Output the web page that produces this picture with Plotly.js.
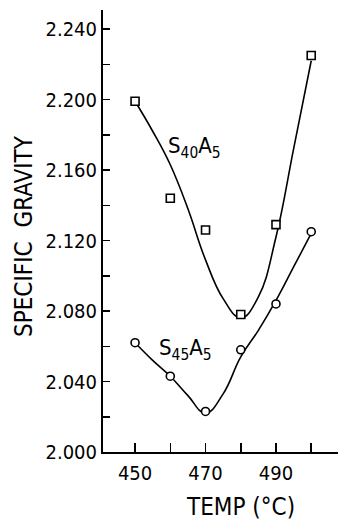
<!DOCTYPE html>
<html>
<head>
<meta charset="utf-8">
<script src="https://cdn.plot.ly/plotly-3.0.1.min.js"></script>
<style>html,body{margin:0;padding:0;background:#fff;}#chart{width:338px;height:520px;}</style>
</head>
<body>
<div id="chart"></div>
<script>
// Measured points
const temps = [450, 460, 470, 480, 490, 500];
const s40a5 = [2.199, 2.144, 2.126, 2.078, 2.129, 2.225];
const s45a5 = [2.062, 2.043, 2.023, 2.058, 2.084, 2.125];

// Smooth fitted curves
const curveTemps = [450, 455, 460, 465, 470, 475, 480, 485, 490, 495, 500];
const s40a5Curve = [2.199, 2.182, 2.163, 2.138, 2.109, 2.087, 2.076, 2.088, 2.122, 2.172, 2.222];
const s45a5Curve = [2.062, 2.052, 2.043, 2.032, 2.022, 2.033, 2.054, 2.069, 2.086, 2.105, 2.124];

// Tick labels
const xTickVals = [450, 470, 490];
const yTickVals = [2.000, 2.040, 2.080, 2.120, 2.160, 2.200, 2.240];
const yTickText = ['2.000', '2.040', '2.080', '2.120', '2.160', '2.200', '2.240'];

const FONT = '"DejaVu Sans Condensed", "DejaVu Sans", sans-serif';

const traces = [
  {x: curveTemps, y: s40a5Curve, mode: 'lines', line: {color: '#000', width: 1.6, shape: 'spline', smoothing: 1.2}, hoverinfo: 'skip', showlegend: false},
  {x: curveTemps, y: s45a5Curve, mode: 'lines', line: {color: '#000', width: 1.6, shape: 'spline', smoothing: 1.2}, hoverinfo: 'skip', showlegend: false},
  {x: temps, y: s40a5, mode: 'markers', name: 'S40A5',
   marker: {symbol: 'square', size: 8, color: '#fff', line: {color: '#000', width: 1.6}}, showlegend: false},
  {x: temps, y: s45a5, mode: 'markers', name: 'S45A5',
   marker: {symbol: 'circle', size: 8, color: '#fff', line: {color: '#000', width: 1.6}}, showlegend: false}
];

const PW = 338 - 103, PH = 520 - 10 - 68;

const layout = {
  width: 338, height: 520,
  margin: {l: 103, r: 0, t: 10, b: 68},
  paper_bgcolor: '#fff', plot_bgcolor: '#fff',
  font: {family: FONT, color: '#000', size: 20},
  showlegend: false,
  xaxis: {
    range: [440.9, 507.6], showgrid: false, zeroline: false,
    showline: true, linecolor: '#000', linewidth: 2,
    tickmode: 'array', tickvals: xTickVals,
    ticks: 'inside', ticklen: 9, tickwidth: 1.5, tickcolor: '#000',
    minor: {dtick: 10, tick0: 450, ticks: 'inside', ticklen: 9, tickwidth: 1.5, tickcolor: '#000', showgrid: false},
    tickfont: {family: FONT, size: 20, color: '#000'},
    ticklabelstandoff: 2
  },
  yaxis: {
    range: [2.000, 2.2508], showgrid: false, zeroline: false,
    showline: true, linecolor: '#000', linewidth: 2,
    tickmode: 'array', tickvals: yTickVals, ticktext: yTickText,
    ticks: 'inside', ticklen: 7, tickwidth: 1.5, tickcolor: '#000',
    minor: {dtick: 0.02, tick0: 2.0, ticks: 'inside', ticklen: 7, tickwidth: 1.5, tickcolor: '#000', showgrid: false},
    tickfont: {family: FONT, size: 20, color: '#000'}
  },
  annotations: [
    {x: 466.9, y: 2.1725, xref: 'x', yref: 'y', text: 'S<sub>40</sub>A<sub>5</sub>', showarrow: false,
     font: {family: FONT, size: 22, color: '#000'}},
    {x: 464.4, y: 2.0579, xref: 'x', yref: 'y', text: 'S<sub>45</sub>A<sub>5</sub>', showarrow: false,
     font: {family: FONT, size: 22, color: '#000'}},
    {x: (24 - 103) / PW, y: (452 - 236) / PH, xref: 'paper', yref: 'paper', xanchor: 'center', yanchor: 'middle',
     text: 'SPECIFIC&nbsp;&nbsp;GRAVITY', textangle: -90, showarrow: false,
     font: {family: FONT, size: 24, color: '#000'}},
    {x: (240 - 103) / PW, y: (452 - 507) / PH, xref: 'paper', yref: 'paper', xanchor: 'center', yanchor: 'middle',
     text: 'TEMP (°C)', showarrow: false,
     font: {family: FONT, size: 24, color: '#000'}}
  ]
};

Plotly.newPlot('chart', traces, layout, {displayModeBar: false, staticPlot: true});
</script>
</body>
</html>
